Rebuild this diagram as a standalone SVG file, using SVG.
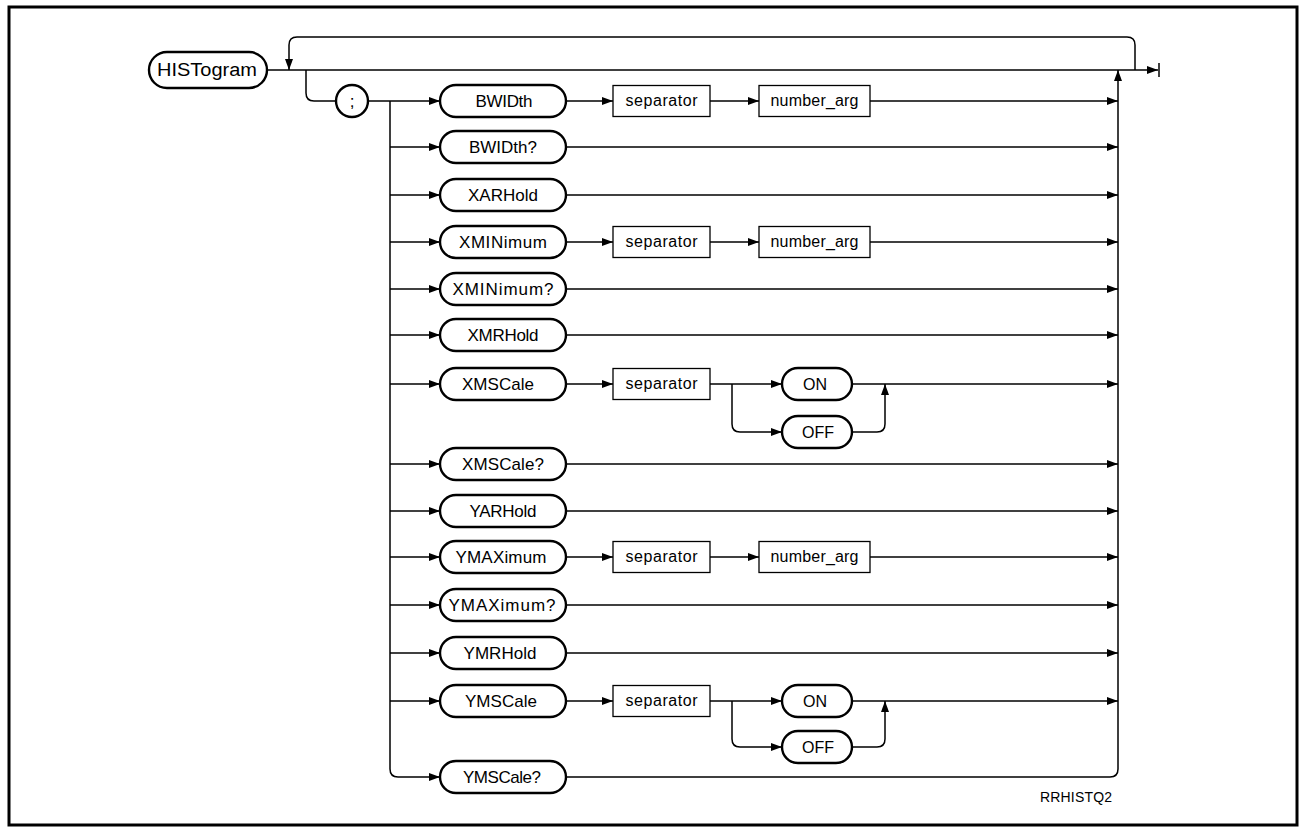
<svg xmlns="http://www.w3.org/2000/svg" width="1302" height="829" viewBox="0 0 1302 829">
<style>
.pill{fill:#fff;stroke:#000;stroke-width:2.4}
.box{fill:#fff;stroke:#000;stroke-width:1.3}
.ln{fill:none;stroke:#000;stroke-width:1.5}
.t{font-family:"Liberation Sans",Arial,sans-serif;font-size:17px;fill:#000;text-anchor:middle}
.s{font-size:16px}
.big{font-size:18px}
.lab{font-family:"Liberation Sans",Arial,sans-serif;font-size:14px;fill:#000;text-anchor:end}
</style>
<defs>
<marker id="ah" markerUnits="userSpaceOnUse" markerWidth="11" markerHeight="8" refX="11" refY="4" orient="auto">
<path d="M0,0 L11,4 L0,8 z" fill="#000"/>
</marker>
</defs>
<rect x="0" y="0" width="1302" height="829" fill="#fff"/>
<rect x="9" y="7" width="1288" height="818" fill="none" stroke="#000" stroke-width="3"/>

<g id="connectors" class="ln">
<path d="M267,70 H1158" marker-end="url(#ah)"/>
<path d="M1159,63 V77"/>
<path d="M1135,70 V45 Q1135,37 1127,37 H297 Q289,37 289,45 V70" marker-end="url(#ah)"/>
<path d="M306,70 V93 Q306,101 314,101 H336"/>
<path d="M368,101 H440" marker-end="url(#ah)"/>
<path d="M390,101 V769 Q390,777 398,777 H440" marker-end="url(#ah)"/>
<path d="M390,147 H440" marker-end="url(#ah)"/>
<path d="M390,195 H440" marker-end="url(#ah)"/>
<path d="M390,242 H440" marker-end="url(#ah)"/>
<path d="M390,289 H440" marker-end="url(#ah)"/>
<path d="M390,335 H440" marker-end="url(#ah)"/>
<path d="M390,384 H440" marker-end="url(#ah)"/>
<path d="M390,464 H440" marker-end="url(#ah)"/>
<path d="M390,511 H440" marker-end="url(#ah)"/>
<path d="M390,557 H440" marker-end="url(#ah)"/>
<path d="M390,605 H440" marker-end="url(#ah)"/>
<path d="M390,653 H440" marker-end="url(#ah)"/>
<path d="M390,701 H440" marker-end="url(#ah)"/>
<path d="M566,101 H613" marker-end="url(#ah)"/>
<path d="M710,101 H759" marker-end="url(#ah)"/>
<path d="M870,101 H1118" marker-end="url(#ah)"/>
<path d="M566,147 H1118" marker-end="url(#ah)"/>
<path d="M566,195 H1118" marker-end="url(#ah)"/>
<path d="M566,242 H613" marker-end="url(#ah)"/>
<path d="M710,242 H759" marker-end="url(#ah)"/>
<path d="M870,242 H1118" marker-end="url(#ah)"/>
<path d="M566,289 H1118" marker-end="url(#ah)"/>
<path d="M566,335 H1118" marker-end="url(#ah)"/>
<path d="M566,384 H613" marker-end="url(#ah)"/>
<path d="M710,384 H782" marker-end="url(#ah)"/>
<path d="M732,384 V424 Q732,432 740,432 H782" marker-end="url(#ah)"/>
<path d="M852,384 H1118" marker-end="url(#ah)"/>
<path d="M852,432 H877 Q885,432 885,424 V384" marker-end="url(#ah)"/>
<path d="M566,464 H1118" marker-end="url(#ah)"/>
<path d="M566,511 H1118" marker-end="url(#ah)"/>
<path d="M566,557 H613" marker-end="url(#ah)"/>
<path d="M710,557 H759" marker-end="url(#ah)"/>
<path d="M870,557 H1118" marker-end="url(#ah)"/>
<path d="M566,605 H1118" marker-end="url(#ah)"/>
<path d="M566,653 H1118" marker-end="url(#ah)"/>
<path d="M566,701 H613" marker-end="url(#ah)"/>
<path d="M710,701 H782" marker-end="url(#ah)"/>
<path d="M732,701 V739 Q732,747 740,747 H782" marker-end="url(#ah)"/>
<path d="M852,701 H1118" marker-end="url(#ah)"/>
<path d="M852,747 H877 Q885,747 885,739 V701" marker-end="url(#ah)"/>
<path d="M566,777 H1110 Q1118,777 1118,769 V70" marker-end="url(#ah)"/>
</g>

<g id="histogram"><rect class="pill" x="149" y="52" width="118" height="36" rx="18"/><text class="t big" x="207" y="76" textLength="100" lengthAdjust="spacingAndGlyphs">HISTogram</text></g>
<g id="semicolon"><circle class="pill" cx="352" cy="101" r="16"/><text class="t" x="352" y="107">;</text></g>

<g id="bwidth"><rect class="pill" x="440" y="85" width="126" height="32" rx="16"/><text class="t" x="504" y="107" textLength="57">BWIDth</text></g>
<g id="bwidth-sep"><rect class="box" x="613" y="85.5" width="97" height="31"/><text class="t s" x="661.5" y="106" textLength="72">separator</text></g>
<g id="bwidth-num"><rect class="box" x="759" y="85.5" width="111" height="31"/><text class="t s" x="814.5" y="106" textLength="88">number_arg</text></g>

<g id="bwidthq"><rect class="pill" x="440" y="131" width="126" height="32" rx="16"/><text class="t" x="503" y="153" textLength="68">BWIDth?</text></g>
<g id="xarhold"><rect class="pill" x="440" y="179" width="126" height="32" rx="16"/><text class="t" x="503" y="201" textLength="70">XARHold</text></g>

<g id="xminimum"><rect class="pill" x="440" y="226" width="126" height="32" rx="16"/><text class="t" x="503" y="248" textLength="88">XMINimum</text></g>
<g id="xminimum-sep"><rect class="box" x="613" y="226.5" width="97" height="31"/><text class="t s" x="661.5" y="247" textLength="72">separator</text></g>
<g id="xminimum-num"><rect class="box" x="759" y="226.5" width="111" height="31"/><text class="t s" x="814.5" y="247" textLength="88">number_arg</text></g>

<g id="xminimumq"><rect class="pill" x="440" y="273" width="126" height="32" rx="16"/><text class="t" x="503" y="295" textLength="101">XMINimum?</text></g>
<g id="xmrhold"><rect class="pill" x="440" y="319" width="126" height="32" rx="16"/><text class="t" x="503" y="341" textLength="71">XMRHold</text></g>

<g id="xmscale"><rect class="pill" x="440" y="368" width="126" height="32" rx="16"/><text class="t" x="498" y="390" textLength="72">XMSCale</text></g>
<g id="xmscale-sep"><rect class="box" x="613" y="368.5" width="97" height="31"/><text class="t s" x="661.5" y="389" textLength="72">separator</text></g>
<g id="xmscale-on"><rect class="pill" x="782" y="368" width="70" height="32" rx="16"/><text class="t s" x="815" y="390">ON</text></g>
<g id="xmscale-off"><rect class="pill" x="782" y="416" width="70" height="32" rx="16"/><text class="t s" x="818" y="438">OFF</text></g>

<g id="xmscaleq"><rect class="pill" x="440" y="448" width="126" height="32" rx="16"/><text class="t" x="503" y="470" textLength="82">XMSCale?</text></g>
<g id="yarhold"><rect class="pill" x="440" y="495" width="126" height="32" rx="16"/><text class="t" x="503" y="517" textLength="67">YARHold</text></g>

<g id="ymaximum"><rect class="pill" x="440" y="541" width="126" height="32" rx="16"/><text class="t" x="501" y="563" textLength="91">YMAXimum</text></g>
<g id="ymaximum-sep"><rect class="box" x="613" y="541.5" width="97" height="31"/><text class="t s" x="661.5" y="562" textLength="72">separator</text></g>
<g id="ymaximum-num"><rect class="box" x="759" y="541.5" width="111" height="31"/><text class="t s" x="814.5" y="562" textLength="88">number_arg</text></g>

<g id="ymaximumq"><rect class="pill" x="440" y="589" width="126" height="32" rx="16"/><text class="t" x="502" y="611" textLength="107">YMAXimum?</text></g>
<g id="ymrhold"><rect class="pill" x="440" y="637" width="126" height="32" rx="16"/><text class="t" x="500" y="659" textLength="73">YMRHold</text></g>

<g id="ymscale"><rect class="pill" x="440" y="685" width="126" height="32" rx="16"/><text class="t" x="501" y="707" textLength="72">YMSCale</text></g>
<g id="ymscale-sep"><rect class="box" x="613" y="685.5" width="97" height="31"/><text class="t s" x="661.5" y="706" textLength="72">separator</text></g>
<g id="ymscale-on"><rect class="pill" x="782" y="685" width="70" height="32" rx="16"/><text class="t s" x="815" y="707">ON</text></g>
<g id="ymscale-off"><rect class="pill" x="782" y="731" width="70" height="32" rx="16"/><text class="t s" x="818" y="753">OFF</text></g>

<g id="ymscaleq"><rect class="pill" x="440" y="761" width="126" height="32" rx="16"/><text class="t" x="502" y="783" textLength="78">YMSCale?</text></g>

<text class="lab" x="1112" y="802" textLength="72">RRHISTQ2</text>
</svg>
